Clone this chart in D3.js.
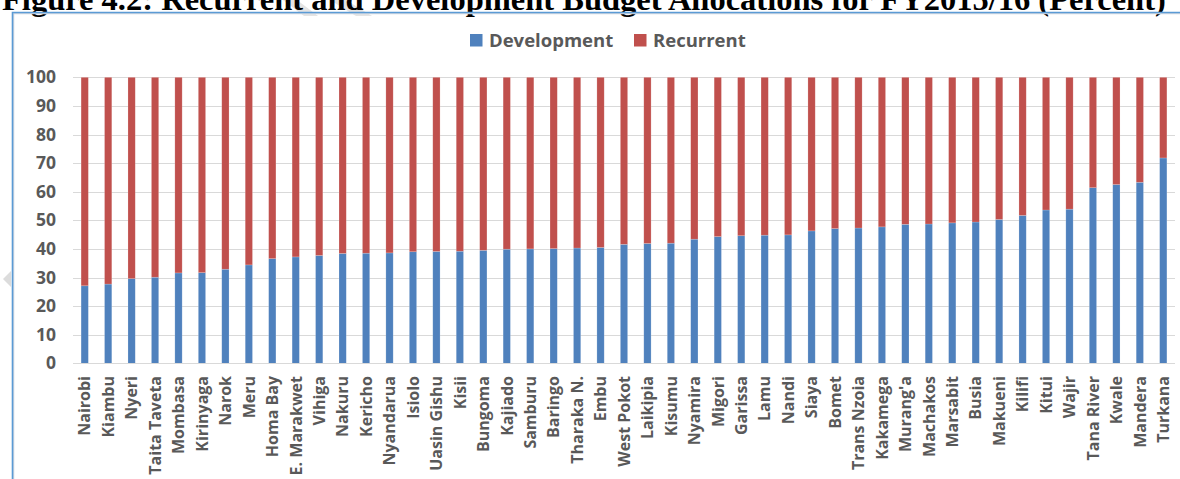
<!DOCTYPE html>
<html>
<head>
<meta charset="utf-8">
<script src="https://cdn.jsdelivr.net/npm/d3@7"></script>
<style>
  html, body { margin: 0; padding: 0; background: #fff; overflow: hidden; }
  svg { display: block; }
</style>
</head>
<body>
<svg id="chart" width="1180" height="479"></svg>
<script>
// County budget split, FY2015/16 (percent of total allocation)
const counties = ["Nairobi","Kiambu","Nyeri","Taita Taveta","Mombasa","Kirinyaga","Narok","Meru","Homa Bay","E. Marakwet",
  "Vihiga","Nakuru","Kericho","Nyandarua","Isiolo","Uasin Gishu","Kisii","Bungoma","Kajiado","Samburu",
  "Baringo","Tharaka N.","Embu","West Pokot","Laikipia","Kisumu","Nyamira","Migori","Garissa","Lamu",
  "Nandi","Siaya","Bomet","Trans Nzoia","Kakamega","Murang'a","Machakos","Marsabit","Busia","Makueni",
  "Kilifi","Kitui","Wajir","Tana River","Kwale","Mandera","Turkana"];

const development = [27.1,27.7,29.6,30.1,31.6,31.7,32.9,34.4,36.6,37.2,
  37.7,38.4,38.5,38.6,39.0,39.1,39.2,39.5,39.9,40.0,
  40.1,40.3,40.5,41.6,41.9,42.0,43.4,44.3,44.6,44.8,
  44.9,46.3,47.1,47.3,47.7,48.6,48.7,49.1,49.4,50.3,
  51.7,53.6,53.9,61.4,62.5,63.3,71.8];

const recurrent = [72.9,72.3,70.4,69.9,68.4,68.3,67.1,65.6,63.4,62.8,
  62.3,61.6,61.5,61.4,61.0,60.9,60.8,60.5,60.1,60.0,
  59.9,59.7,59.5,58.4,58.1,58.0,56.6,55.7,55.4,55.2,
  55.1,53.7,52.9,52.7,52.3,51.4,51.3,50.9,50.6,49.7,
  48.3,46.4,46.1,38.6,37.5,36.7,28.2];

const seriesNames = ["Development", "Recurrent"];
const seriesColors = ["#4f81bd", "#c0504d"];
const yTicks = [0,10,20,30,40,50,60,70,80,90,100];
const titleText = "Figure 4.2: Recurrent and Development Budget Allocations for FY2015/16 (Percent)";

const svg = d3.select("#chart");
const labelFont = "'Open Sans', 'DejaVu Sans', sans-serif";
const textGrey = "#595959";

// Faint watermark strokes behind everything
const wm = svg.append("g").attr("fill", "#e4e4e4");
wm.append("path").attr("d", "M283,0 L297,0 L318,16 L304,16 Z");
wm.append("path").attr("d", "M330,0 L346,0 L372,16 L356,16 Z");

// Figure caption (runs off the top edge of the page)
const title = svg.append("text")
  .attr("x", 2).attr("y", 10)
  .attr("font-family", "'Liberation Serif', 'Times New Roman', serif")
  .attr("font-weight", "bold")
  .attr("font-size", 100)
  .attr("fill", "#000")
  .text(titleText);
const tw = title.node().getComputedTextLength();
title.attr("font-size", 100 * 1164 / tw);

// Chart frame
svg.append("path")
  .attr("d", "M13.5,480 L13.5,13.5 L1181,13.5")
  .attr("fill", "none").attr("stroke", "#d0d7e0").attr("stroke-width", 1.5);
svg.append("path")
  .attr("d", "M12.5,480 L12.5,12.5 L1181,12.5")
  .attr("fill", "none").attr("stroke", "#5b9bd5").attr("stroke-width", 1.6);

// Small grey marker on the frame edge
svg.append("path").attr("d", "M3,279 L11,271 L11,287 Z").attr("fill", "#dcdcdc");

// Scales
const x = d3.scaleBand().domain(counties).range([73, 1175]).paddingInner(0.69).paddingOuter(0.345);
const y = d3.scaleLinear().domain([0, 100]).range([363.3, 77.3]);

// Gridlines
svg.append("g").selectAll("line").data(yTicks.filter(d => d > 0)).join("line")
  .attr("x1", 73).attr("x2", 1175)
  .attr("y1", d => Math.round(y(d)) + 0.5).attr("y2", d => Math.round(y(d)) + 0.5)
  .attr("stroke", "#d9d9d9").attr("stroke-width", 1);

// Stacked bars
const rows = counties.map((c, i) => ({ county: c, Development: development[i], Recurrent: recurrent[i] }));
const stacked = d3.stack().keys(seriesNames)(rows);
svg.append("g").selectAll("g").data(stacked).join("g")
  .attr("fill", (d, i) => seriesColors[i])
  .selectAll("rect").data(d => d).join("rect")
  .attr("x", d => x(d.data.county))
  .attr("width", x.bandwidth())
  .attr("y", d => y(d[1]))
  .attr("height", d => y(d[0]) - y(d[1]))
  .attr("stroke", "#ffffff").attr("stroke-opacity", 0.3).attr("stroke-width", 0.6);

// Category axis line
svg.append("line")
  .attr("x1", 73).attr("x2", 1175)
  .attr("y1", Math.round(y(0)) + 0.5).attr("y2", Math.round(y(0)) + 0.5)
  .attr("stroke", "#d9d9d9").attr("stroke-width", 1);

// Y axis (labels only)
const yAxis = d3.axisLeft(y).tickValues(yTicks).tickSize(0).tickPadding(0);
const yg = svg.append("g").attr("transform", "translate(56,0)").call(yAxis);
yg.select(".domain").remove();
yg.selectAll("text")
  .attr("font-family", labelFont).attr("font-weight", "bold")
  .attr("font-size", 17.5).attr("fill", textGrey);

// X axis labels, rotated
const xAxis = d3.axisBottom(x).tickSize(0).tickPadding(0);
const xg = svg.append("g").attr("transform", `translate(0,${Math.round(y(0))})`).call(xAxis);
xg.select(".domain").remove();
xg.selectAll("text")
  .attr("font-family", labelFont).attr("font-weight", "bold")
  .attr("font-size", 16).attr("fill", textGrey)
  .attr("text-anchor", "end")
  .attr("transform", "rotate(-90)")
  .attr("x", -13).attr("y", 0).attr("dy", "0.36em");

// Legend
const legend = svg.append("g").attr("transform", "translate(470,34)");
const items = [{ name: "Development", x: 0 }, { name: "Recurrent", x: 164 }];
items.forEach((it, i) => {
  legend.append("rect").attr("x", it.x).attr("y", 0).attr("width", 12.5).attr("height", 12.5)
    .attr("fill", seriesColors[i]);
  legend.append("text").attr("x", it.x + 19).attr("y", 12.8)
    .attr("font-family", labelFont).attr("font-weight", "bold")
    .attr("font-size", 18.5).attr("fill", textGrey)
    .text(it.name);
});
</script>
</body>
</html>
